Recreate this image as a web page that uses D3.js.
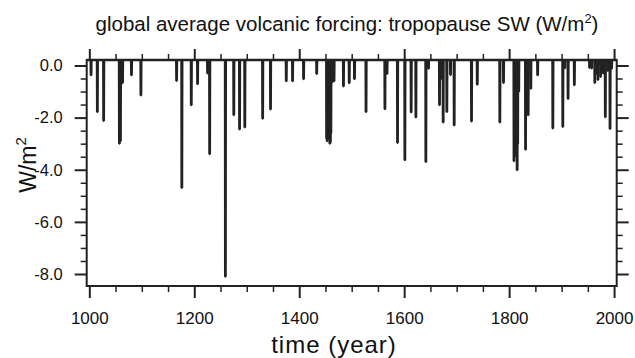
<!DOCTYPE html>
<html>
<head>
<meta charset="utf-8">
<script src="https://cdn.jsdelivr.net/npm/d3@7"></script>
<style>
  html, body { margin: 0; padding: 0; background: #fff; }
  svg { display: block; }
  text { font-family: "Liberation Sans", Arial, Helvetica, sans-serif; fill: #111; }
</style>
</head>
<body>
<svg id="chart" width="635" height="358"></svg>
<script>
// ---- data ----
const titleText = "global average volcanic forcing: tropopause SW (W/m";
const xTitle = "time (year)";
const yTitle = "W/m";
const baselineValue = 0.21;
const eventYears = [
  1003, 1015, 1027, 1057, 1059, 1061, 1063, 1080, 1098,
  1166, 1176, 1194, 1206, 1225, 1227, 1229, 1259, 1275, 1286, 1296,
  1330, 1345, 1375, 1387, 1408, 1433,
  1452, 1453, 1454, 1456, 1458, 1459, 1460, 1463, 1466,
  1484, 1495, 1505, 1527, 1563, 1567, 1587, 1601, 1613, 1622,
  1641, 1646, 1667, 1671, 1674, 1681, 1688, 1695,
  1728, 1739, 1782, 1789,
  1809, 1810, 1811, 1812, 1813, 1815, 1816, 1818,
  1831, 1833, 1836, 1841, 1854, 1883, 1902, 1906, 1912, 1924,
  1953, 1957, 1963, 1966, 1969, 1974, 1979, 1983, 1988, 1992, 1995
];
const eventValues = [
  -0.37, -1.78, -2.12, -2.99, -2.9, -0.7, -0.66, -0.37, -1.14,
  -0.59, -4.69, -1.52, -0.71, -0.30, -0.30, -3.40, -8.10, -1.90, -2.45, -2.37,
  -2.03, -1.68, -0.60, -0.60, -0.52, -0.32,
  -2.80, -2.90, -2.70, -2.80, -2.99, -2.95, -2.6, -0.62, -0.60,
  -0.80, -0.67, -0.52, -1.78, -1.67, -0.32, -2.96, -3.63, -1.79, -1.99,
  -3.69, -0.12, -1.52, -0.5, -2.18, -1.78, -0.36, -2.29,
  -2.14, -0.73, -2.18, -0.66,
  -3.66, -3.5, -3.3, -3.1, -3.0, -4.01, -3.0, -1.0,
  -3.22, -1.5, -1.90, -0.88, -0.37, -2.41, -2.35, -0.10, -1.28, -0.75,
  -0.09, -0.11, -0.66, -0.3, -0.55, -0.43, -0.30, -1.98, -0.2, -2.43, -0.12
];
const xMajorTicks = [1000, 1200, 1400, 1600, 1800, 2000];
const xMinorTicks = [1050, 1100, 1150, 1250, 1300, 1350, 1450, 1500, 1550, 1650, 1700, 1750, 1850, 1900, 1950];
const yMajorTicks = [0, -2, -4, -6, -8];
const yMinorTicks = [-0.5, -1, -1.5, -2.5, -3, -3.5, -4.5, -5, -5.5, -6.5, -7, -7.5];
const yTickLabels = ["0.0", "-2.0", "-4.0", "-6.0", "-8.0"];

// ---- layout ----
const svg = d3.select("#chart");
const L = 86.7, R = 616.7, T = 60, B = 286;
const x = d3.scaleLinear().domain([995, 2005]).range([L, R]);
const y = d3.scaleLinear().domain([-8.46, 0.21]).range([B, T]);
const ink = "#222";

// series: baseline + spikes
const g = svg.append("g");
g.append("path")
  .attr("d", d3.line()([[x(995), y(baselineValue)], [x(2005), y(baselineValue)]]))
  .attr("stroke", ink).attr("stroke-width", 2.4).attr("fill", "none");
const spike = d3.line().x(d => x(d[0])).y(d => y(d[1]));
eventYears.forEach((yr, i) => {
  const v = eventValues[i];
  g.append("path")
    .attr("d", spike([[yr - 0.3, baselineValue], [yr, v], [yr + 0.6, v], [yr + 1.0, baselineValue]]))
    .attr("stroke", ink).attr("stroke-width", 2.5)
    .attr("stroke-linejoin", "bevel").attr("fill", "none");
});

// frame
svg.append("rect").attr("x", L).attr("y", T).attr("width", R - L).attr("height", B - T)
  .attr("fill", "none").attr("stroke", ink).attr("stroke-width", 2);

function styleAxis(sel, w) {
  sel.select(".domain").remove();
  sel.selectAll("line").attr("stroke", ink).attr("stroke-width", w);
}
// x axes
const xb = svg.append("g").attr("transform", `translate(0,${B})`)
  .call(d3.axisBottom(x).tickValues(xMajorTicks).tickSize(12).tickPadding(14).tickFormat(d3.format("d")));
styleAxis(xb, 2);
xb.selectAll("text").attr("font-size", 17).attr("fill", "#111");
const xbm = svg.append("g").attr("transform", `translate(0,${B})`)
  .call(d3.axisBottom(x).tickValues(xMinorTicks).tickSize(6).tickFormat(""));
styleAxis(xbm, 1.5);
const xt = svg.append("g").attr("transform", `translate(0,${T})`)
  .call(d3.axisTop(x).tickValues(xMajorTicks).tickSize(11).tickFormat(""));
styleAxis(xt, 2);
const xtm = svg.append("g").attr("transform", `translate(0,${T})`)
  .call(d3.axisTop(x).tickValues(xMinorTicks).tickSize(6).tickFormat(""));
styleAxis(xtm, 1.5);

// y axes
const yl = svg.append("g").attr("transform", `translate(${L},0)`)
  .call(d3.axisLeft(y).tickValues(yMajorTicks).tickSize(12).tickPadding(12)
    .tickFormat((d, i) => yTickLabels[i]));
styleAxis(yl, 2);
yl.selectAll("text").attr("font-size", 16.5).attr("fill", "#111");
const ylm = svg.append("g").attr("transform", `translate(${L},0)`)
  .call(d3.axisLeft(y).tickValues(yMinorTicks).tickSize(6).tickFormat(""));
styleAxis(ylm, 1.5);
const yr_ = svg.append("g").attr("transform", `translate(${R},0)`)
  .call(d3.axisRight(y).tickValues(yMajorTicks).tickSize(12).tickFormat(""));
styleAxis(yr_, 2);
const yrm = svg.append("g").attr("transform", `translate(${R},0)`)
  .call(d3.axisRight(y).tickValues(yMinorTicks).tickSize(6).tickFormat(""));
styleAxis(yrm, 1.5);

// titles
const t = svg.append("text").attr("x", 347).attr("y", 31).attr("text-anchor", "middle")
  .attr("font-size", 20.5);
t.append("tspan").text(titleText);
t.append("tspan").attr("font-size", 13).attr("dy", -8).text("2");
t.append("tspan").attr("dy", 8).text(")");

svg.append("text").attr("x", 334).attr("y", 353).attr("text-anchor", "middle")
  .attr("font-size", 24).attr("letter-spacing", 1).text(xTitle);

const yt = svg.append("text").attr("transform", "translate(36,165) rotate(-90)")
  .attr("text-anchor", "middle").attr("font-size", 23);
yt.append("tspan").text(yTitle);
yt.append("tspan").attr("font-size", 15).attr("dy", -10).text("2");
</script>
</body>
</html>
